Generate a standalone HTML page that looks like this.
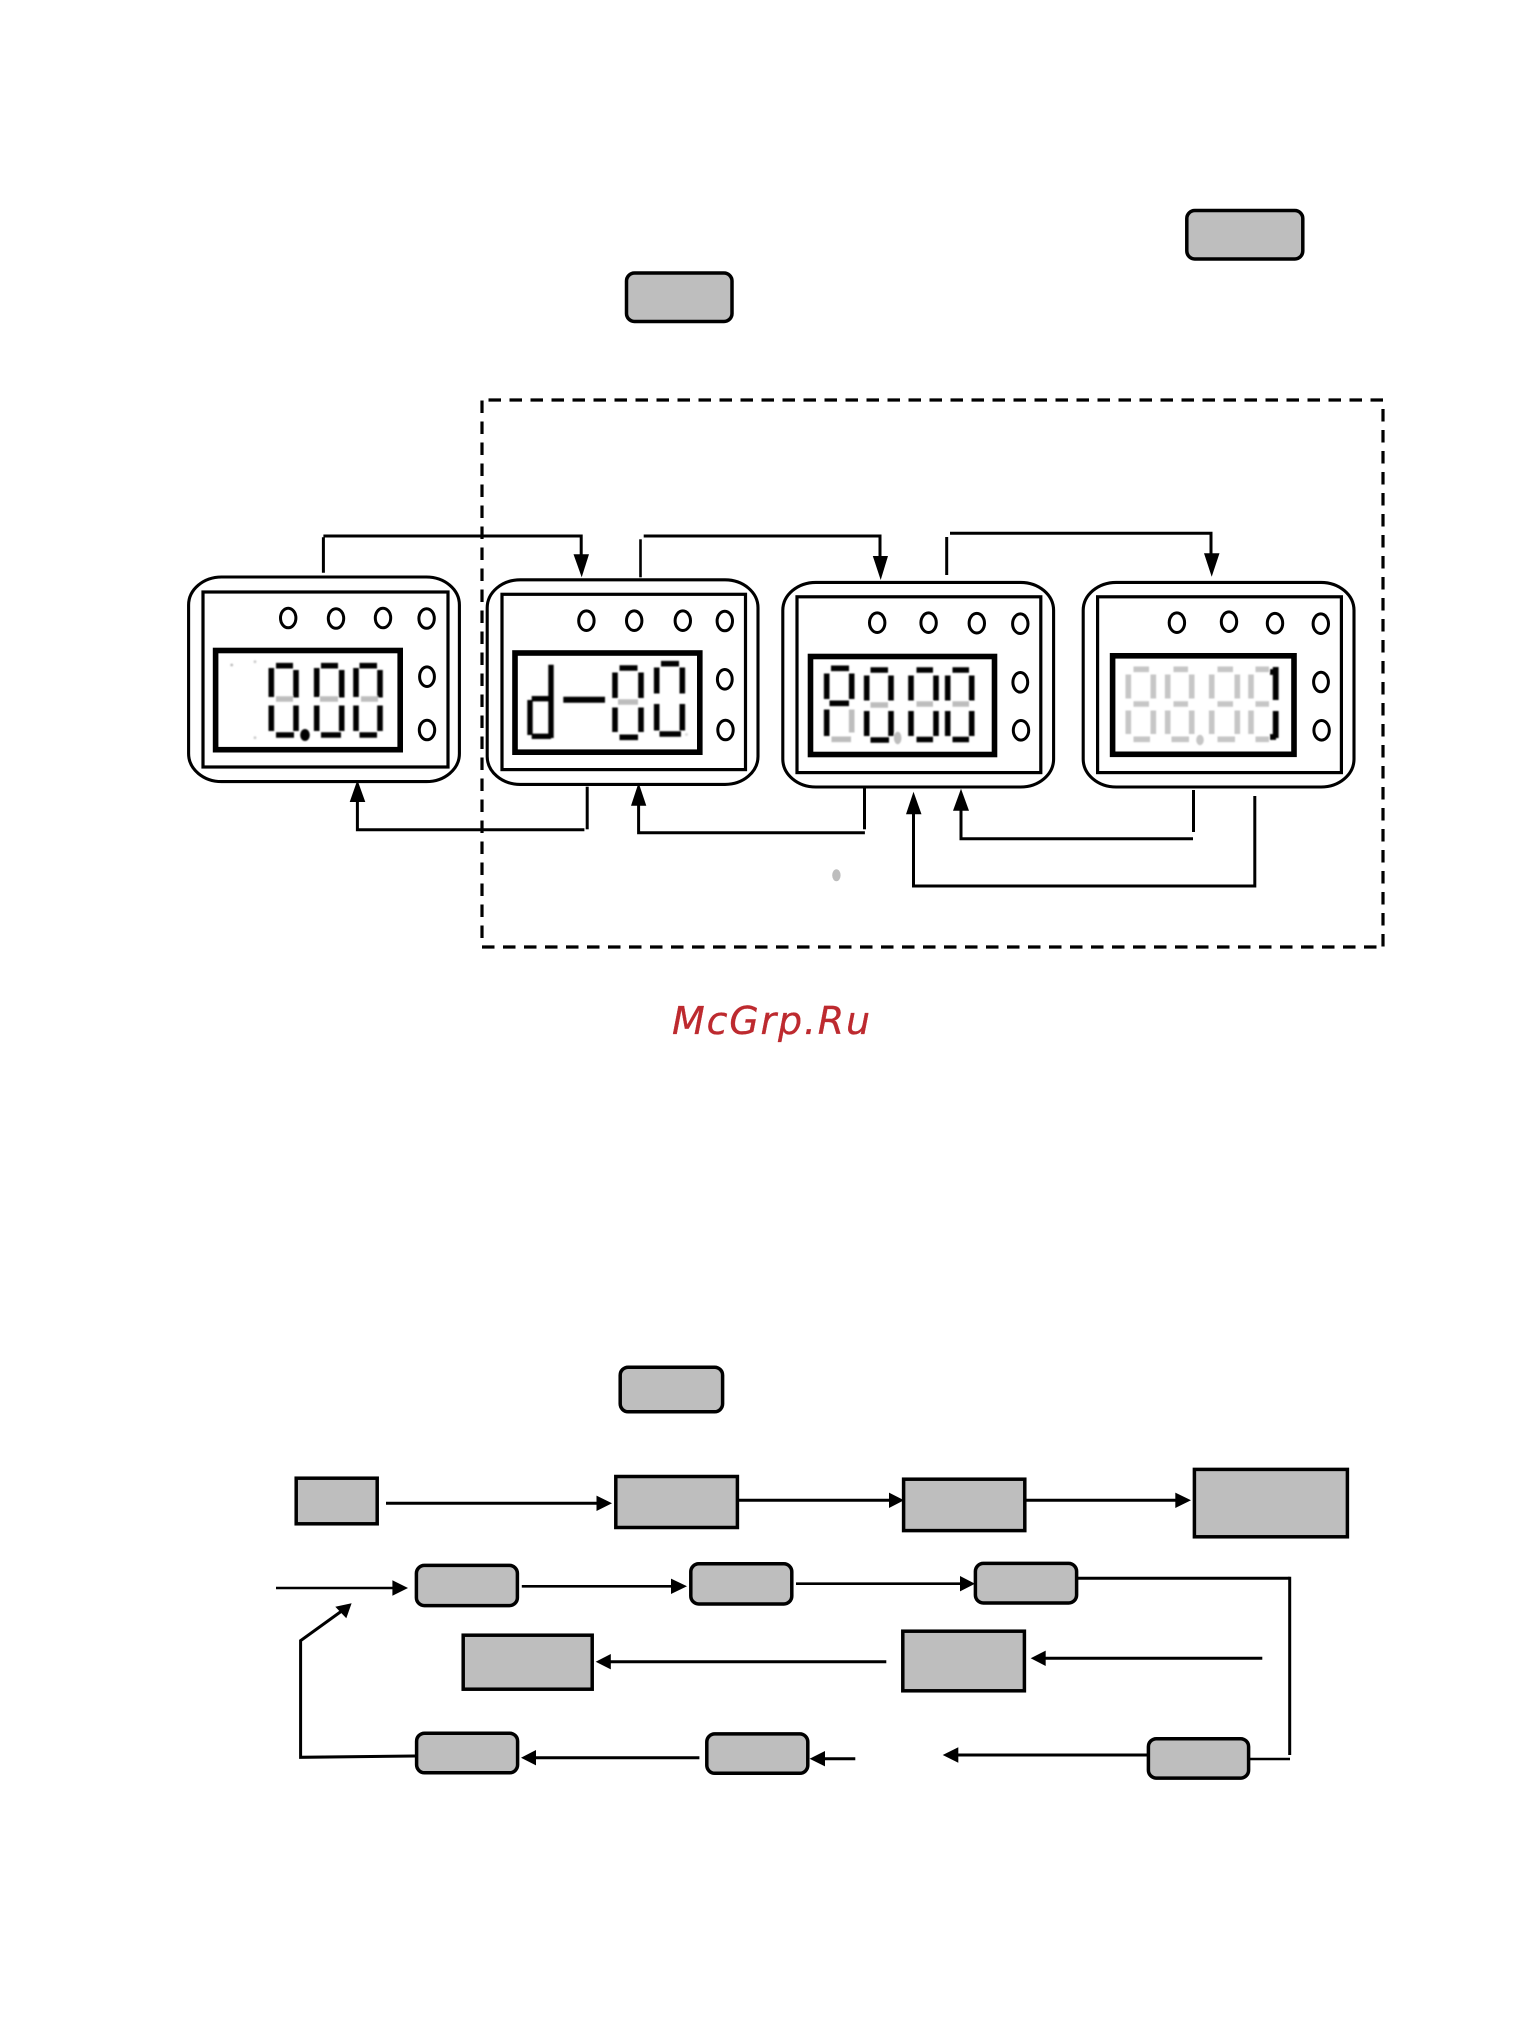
<!DOCTYPE html>
<html>
<head>
<meta charset="utf-8">
<style>
html,body{margin:0;padding:0;background:#fff;width:1531px;height:2041px;overflow:hidden}
svg{position:absolute;left:0;top:0;display:block}
text{font-family:"DejaVu Sans","Liberation Sans",sans-serif;font-style:oblique}
.b{fill:#bebebe;stroke:#000;stroke-width:3.5}
.o{fill:#fff;stroke:#000;stroke-width:3.1}
.i{fill:none;stroke:#000;stroke-width:3.2}
.l{fill:#fff;stroke:#000;stroke-width:5.6}
.e{fill:#fff;stroke:#000;stroke-width:3}
.c{fill:none;stroke:#000;stroke-width:3}
.t{fill:none;stroke:#000;stroke-width:2.6}
.d{fill:none;stroke:#000;stroke-width:3.2;stroke-dasharray:12.5 8.5}
.k{fill:none;stroke:#000;stroke-width:5.6}
.g{fill:none;stroke:#bdbdbd;stroke-width:5.6}
.lg{fill:none;stroke:#c6c6c6;stroke-width:5.6}
</style>
</head>
<body>
<svg width="1531" height="2041" viewBox="0 0 1531 2041" xmlns="http://www.w3.org/2000/svg">
<defs><filter id="s" x="-5%" y="-5%" width="110%" height="110%"><feGaussianBlur stdDeviation="0.7"/></filter></defs>

<!-- top buttons -->
<rect class="b" x="1186.8" y="210.5" width="116" height="48.5" rx="8" ry="8"/>
<rect class="b" x="626.5" y="273" width="105.5" height="48.5" rx="8" ry="8"/>

<!-- dashed frame -->
<path class="d" d="M482 947H1383"/>
<path class="d" d="M1383 400H482"/>
<path class="d" d="M482 938V400"/>
<path class="d" d="M1383 409V947"/>

<!-- device 1 -->
<rect class="o" x="188.6" y="577" width="270.8" height="204.6" rx="33" ry="28"/>
<rect class="i" x="203" y="592" width="245" height="175"/>
<rect class="l" x="215.6" y="650.5" width="184.6" height="99.2"/>
<ellipse class="e" cx="288.2" cy="618" rx="7.7" ry="9.8"/>
<ellipse class="e" cx="336" cy="618.5" rx="7.7" ry="9.8"/>
<ellipse class="e" cx="383" cy="618" rx="7.7" ry="9.8"/>
<ellipse class="e" cx="426.6" cy="618.5" rx="7.7" ry="9.8"/>
<ellipse class="e" cx="427" cy="676.7" rx="7.4" ry="9.8"/>
<ellipse class="e" cx="427" cy="730" rx="7.7" ry="9.8"/>

<!-- device 2 -->
<rect class="o" x="487.2" y="579.8" width="270.8" height="204.6" rx="33" ry="28"/>
<rect class="i" x="502" y="594.3" width="243.5" height="175.3"/>
<rect class="l" x="515" y="653" width="184.8" height="99.2"/>
<ellipse class="e" cx="586.4" cy="620.7" rx="7.7" ry="9.8"/>
<ellipse class="e" cx="634.2" cy="620.7" rx="7.7" ry="9.8"/>
<ellipse class="e" cx="682.8" cy="620.7" rx="7.7" ry="9.8"/>
<ellipse class="e" cx="724.8" cy="621" rx="7.7" ry="9.8"/>
<ellipse class="e" cx="724.8" cy="679.3" rx="7.4" ry="9.8"/>
<ellipse class="e" cx="725.5" cy="730" rx="7.7" ry="9.8"/>

<!-- device 3 -->
<rect class="o" x="782.8" y="582.4" width="270.8" height="204.6" rx="33" ry="28"/>
<rect class="i" x="797" y="596.8" width="243.8" height="175.8"/>
<rect class="l" x="810.5" y="656.5" width="184" height="98"/>
<ellipse class="e" cx="877.2" cy="622.7" rx="7.7" ry="9.8"/>
<ellipse class="e" cx="928.6" cy="622.7" rx="7.7" ry="9.8"/>
<ellipse class="e" cx="976.8" cy="623.2" rx="7.7" ry="9.8"/>
<ellipse class="e" cx="1020.3" cy="623.7" rx="7.7" ry="9.8"/>
<ellipse class="e" cx="1020.3" cy="682.3" rx="7.4" ry="9.8"/>
<ellipse class="e" cx="1021" cy="730.3" rx="7.7" ry="9.8"/>

<!-- device 4 -->
<rect class="o" x="1083.2" y="582.4" width="270.8" height="204.6" rx="33" ry="28"/>
<rect class="i" x="1097.6" y="596.8" width="243.8" height="175.8"/>
<rect class="l" x="1112.6" y="655.8" width="181.4" height="98.5"/>
<ellipse class="e" cx="1176.9" cy="622.7" rx="7.7" ry="9.8"/>
<ellipse class="e" cx="1229" cy="621.7" rx="7.7" ry="9.8"/>
<ellipse class="e" cx="1275" cy="623.2" rx="7.7" ry="9.8"/>
<ellipse class="e" cx="1320.8" cy="623.7" rx="7.7" ry="9.8"/>
<ellipse class="e" cx="1321" cy="682" rx="7.4" ry="9.8"/>
<ellipse class="e" cx="1321.6" cy="730.3" rx="7.7" ry="9.8"/>

<!-- LCD segments -->
<g filter="url(#s)">
<!-- 1: 0.00 -->
<path class="k" d="M271.3 668V697M296 670V697.5M271.3 705.5V731M296 705.5V731M276 665.7H293M276 735H294
M316.7 668V697M341.7 670V697.5M316.7 705.5V731M341.7 705.5V731M321 665.7H338M321 735H341
M356 668V697M380 670V697.5M356 705.5V731M380 705.5V731M359.5 665.7H377M359.5 735H377"/>
<path class="g" d="M276 699H293M320 699H338M361 699H378"/>
<ellipse cx="305" cy="735" rx="4.8" ry="6" fill="#000"/>
<circle cx="231.7" cy="665" r="1.4" fill="#bbb"/><circle cx="255" cy="661.7" r="1.4" fill="#ccc"/><circle cx="255" cy="737.7" r="1.4" fill="#ccc"/>

<!-- 2: d-00 -->
<path fill="none" stroke="#000" stroke-width="5.4" d="M551 664.7V738M531.7 698.7H550M530 700V735M531.7 736.3H551"/>
<path fill="none" stroke="#000" stroke-width="6" d="M563.3 699.7H605"/>
<path class="k" d="M615 672.5V698M641 672.5V698M615 707.5V732M641 707.5V732M619.5 668H637.5M619.5 737.3H638
M656.7 667.5V693.5M682.3 667.5V693.5M656.7 704V730.5M682.3 704V730.5M661 663.7H679M659.5 734H681"/>
<path class="g" d="M618 702H638"/>
<circle cx="686.5" cy="734.5" r="1.5" fill="#ddd"/>

<!-- 3: P0.00 -->
<path class="k" d="M826.7 673.5V699M851.7 673.5V699M826.7 709.5V736M831 668.3H849M829.5 703.3H849
M866.7 675.5V700.5M891 675.5V700.5M866.7 711V736M891 711V736M870.5 670H888M870.5 740H889
M911 675.5V700.5M936 675.5V700.5M911 711V736M936 711V736M916.5 670H933M916.5 739.5H933
M947.7 675.5V700.5M971.7 675.5V700.5M947.7 711V736M971.7 711V736M952.5 670H969M952.5 739.5H969"/>
<path class="g" d="M851.7 709.5V732.5M831.5 739.3H851M870.5 705H888M916.5 704H933M952.5 704H969"/>
<ellipse cx="897.7" cy="738" rx="3.8" ry="6.2" fill="#bdbdbd"/>

<!-- 4: 00.01 -->
<path class="lg" d="M1128.3 674.5V698.5M1153.3 674.5V698.5M1128.3 710.5V734M1153.3 710.5V734M1133.5 669.3H1149M1133.5 704H1149M1133.5 739.3H1150
M1167.7 674.5V698.5M1191.7 674.5V698.5M1167.7 710.5V734M1191.7 710.5V734M1173.5 669.3H1188M1173.5 704H1188M1171.5 739.3H1189
M1211.7 674.5V698.5M1237.3 674.5V698.5M1211.7 710.5V734M1237.3 710.5V734M1217.5 669.3H1233M1217.5 704H1233M1217.5 739.3H1235
M1251 674.5V698.5M1251 710.5V734M1255.5 669.3H1269M1255.5 704H1269M1255.5 739.3H1269"/>
<ellipse cx="1200" cy="740" rx="3.8" ry="5.2" fill="#c6c6c6"/>
<path fill="none" stroke="#000" stroke-width="5.8" d="M1275.7 667V700M1275.7 711V738M1270 672H1276M1270 737H1276"/>
</g>

<!-- top connectors -->
<path class="c" d="M323.4 572.7V537.3M323.4 536H581.2V556"/>
<polygon points="573.5,554.3 589,554.3 581.7,577.3"/>
<path class="t" d="M640.5 577.3V539.3"/>
<path class="c" d="M643.7 536H880V558"/>
<polygon points="872.8,556 888,556 880.7,580"/>
<path class="c" d="M946.7 575V537"/>
<path class="c" d="M950 533.3H1211V555"/>
<polygon points="1204,553.3 1219.5,553.3 1211.7,576.7"/>

<!-- bottom connectors -->
<path class="c" d="M587.2 786.7V829.3"/>
<path class="c" d="M584.4 829.7H357.4V800"/>
<polygon points="349.7,802 365.3,802 357.4,780"/>
<path class="c" d="M864.5 788.3V829.3"/>
<path class="c" d="M864.9 832.7H638.6V803"/>
<polygon points="631,805.7 646.3,805.7 638.6,782.7"/>
<path class="c" d="M1193.5 790V832"/>
<path class="c" d="M1193 838.7H961V808"/>
<polygon points="953,810.7 969,810.7 961,788.7"/>
<path class="c" d="M1254.8 796V886H913.5V812"/>
<polygon points="906,814.3 921.5,814.3 913.5,791.7"/>
<ellipse cx="836.4" cy="875.3" rx="4.2" ry="6" fill="#bdbdbd"/>

<!-- watermark -->
<text x="672" y="1034" font-size="38" letter-spacing="1.8" fill="#bd2a2f" stroke="#bd2a2f" stroke-width="0.3">McGrp.Ru</text>

<!-- flow top -->
<rect class="b" x="620.2" y="1367.2" width="102.4" height="44.6" rx="8" ry="8"/>
<rect class="b" x="296.2" y="1478.2" width="81" height="45.6"/>
<rect class="b" x="615.8" y="1476.5" width="121.6" height="51"/>
<rect class="b" x="903.6" y="1479.2" width="121.2" height="51.4"/>
<rect class="b" x="1194.4" y="1469.4" width="153" height="67.4"/>

<path class="c" d="M386 1503.3H598"/>
<polygon points="596.5,1495.6 612,1503.3 596.5,1511"/>
<path class="c" d="M737.8 1500.3H890"/>
<polygon points="889,1492.6 904,1500.3 889,1508"/>
<path class="c" d="M1025 1500.3H1176"/>
<polygon points="1175.3,1492.6 1191,1500.3 1175.3,1508"/>

<!-- flow row 2 -->
<rect class="b" x="416.4" y="1565.4" width="101" height="40.2" rx="8" ry="8"/>
<rect class="b" x="690.8" y="1563.8" width="101" height="40.2" rx="8" ry="8"/>
<rect class="b" x="975.4" y="1563.4" width="101.2" height="39.6" rx="8" ry="8"/>
<path class="t" d="M276 1588H394"/>
<polygon points="392.4,1580.3 408,1588 392.4,1595.7"/>
<path class="t" d="M521.8 1586.3H672"/>
<polygon points="671,1578.6 687,1586.3 671,1594"/>
<path class="t" d="M796 1583.7H961"/>
<polygon points="960,1576 975,1583.7 960,1591.4"/>
<path class="c" d="M1077 1578.3H1289.7"/>
<path class="c" d="M1289.7 1576.7V1755"/>

<!-- flow row 3 -->
<rect class="b" x="463.2" y="1635.2" width="129" height="54"/>
<rect class="b" x="902.8" y="1631.2" width="121.6" height="59.6"/>
<path class="c" d="M886.3 1661.7H609"/>
<polygon points="610.8,1654 595.7,1661.7 610.8,1669.4"/>
<path class="c" d="M1262.3 1658.3H1044"/>
<polygon points="1045.7,1650.6 1030.7,1658.3 1045.7,1666"/>

<!-- flow row 4 -->
<rect class="b" x="416.6" y="1733.2" width="101" height="39.6" rx="8" ry="8"/>
<rect class="b" x="706.8" y="1733.9" width="101" height="39.4" rx="8" ry="8"/>
<rect class="b" x="1148.4" y="1738.7" width="100.2" height="39.4" rx="8" ry="8"/>
<path class="t" d="M1249 1759H1290"/>
<path class="c" d="M1147 1755H957"/>
<polygon points="958.3,1747.3 942.7,1755 958.3,1762.7"/>
<path class="c" d="M699.4 1757.7H534"/>
<polygon points="536,1750 521,1757.7 536,1765.4"/>
<path class="c" d="M855.3 1758.7H823"/>
<polygon points="825,1751 809.6,1758.7 825,1766.4"/>
<path class="c" d="M415 1756L300.6 1757.3V1640.7L341 1611.5"/>
<polygon points="335.3,1606.7 351.6,1603.3 346.3,1618.3"/>
</svg>
</body>
</html>
